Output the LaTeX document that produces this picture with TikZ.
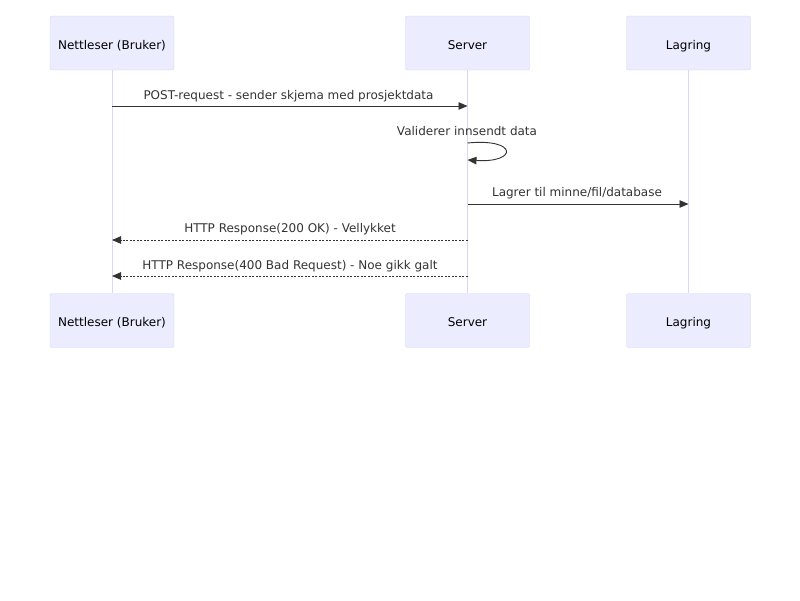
\documentclass[tikz,border=0pt]{standalone}
\usepackage{fontspec}
\setmainfont{DejaVu Sans}
\usetikzlibrary{arrows.meta}
\definecolor{boxfill}{HTML}{ECECFF}
\definecolor{boxline}{HTML}{D4D4F7}
\definecolor{lifeline}{HTML}{D8D8F5}
\definecolor{txt}{HTML}{333333}
\tikzset{
  actor/.style={draw=boxline, fill=boxfill, rounded corners=2pt, minimum width=124pt, minimum height=54pt, inner sep=0pt, text height=12.5pt, text depth=0pt, font=\fontsize{12}{14}\selectfont, text=black},
  lbl/.style={font=\fontsize{12}{14}\selectfont, text=txt, inner sep=0pt, text height=11pt, text depth=2.5pt},
  lline/.style={draw=lifeline, line width=1pt},
  msg/.style={draw=txt, line width=0.9pt, -{Triangle[length=9pt,width=7.5pt]}},
  rmsg/.style={msg, dash pattern=on 2pt off 1.5pt},
}
\begin{document}
\begin{tikzpicture}[x=1pt,y=-1pt]
\useasboundingbox (0,0) rectangle (800,600);
\node[actor] (a1) at (112,43) {Nettleser (Bruker)};
\node[actor] (a2) at (467.5,43) {Server};
\node[actor] (a3) at (688.5,43) {Lagring};
\node[actor] (b1) at (112,320.5) {Nettleser (Bruker)};
\node[actor] (b2) at (467.5,320.5) {Server};
\node[actor] (b3) at (688.5,320.5) {Lagring};
\draw[lline] (a1.south) -- (b1.north);
\draw[lline] (a2.south) -- (b2.north);
\draw[lline] (a3.south) -- (b3.north);
\coordinate (m1s) at (a1.south |- 0,106);
\coordinate (m1e) at (a2.south |- 0,106);
\draw[msg] (m1s) -- (m1e);
\node[lbl] (t1) at (288.5,95) {POST-request - sender skjema med prosjektdata};
\node[lbl] (t2) at (467,131) {Validerer innsendt data};
\coordinate (s1) at (a2.south |- 0,143);
\coordinate (s2) at (a2.south |- 0,160);
\draw[msg] (s1) .. controls (518,138) and (518,163) .. (s2);
\coordinate (m3s) at (a2.south |- 0,204);
\coordinate (m3e) at (a3.south |- 0,204);
\draw[msg] (m3s) -- (m3e);
\node[lbl] (t3) at (577,192) {Lagrer til minne/fil/database};
\coordinate (m4s) at (a2.south |- 0,240);
\coordinate (m4e) at (a1.south |- 0,240);
\draw[rmsg] (m4s) -- (m4e);
\node[lbl] (t4) at (290,228) {HTTP Response(200 OK) - Vellykket};
\coordinate (m5s) at (a2.south |- 0,276);
\coordinate (m5e) at (a1.south |- 0,276);
\draw[rmsg] (m5s) -- (m5e);
\node[lbl] (t5) at (290,265) {HTTP Response(400 Bad Request) - Noe gikk galt};
\end{tikzpicture}
\end{document}
